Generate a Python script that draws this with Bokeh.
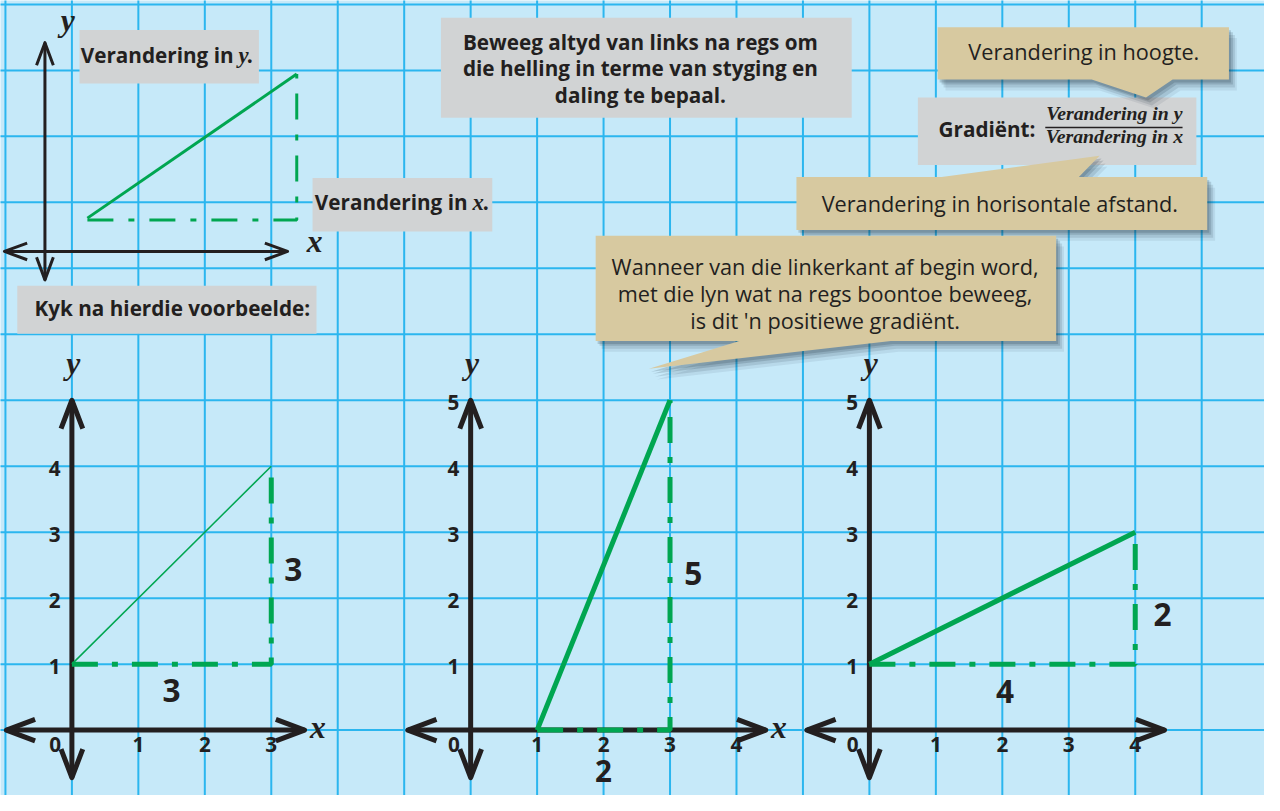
from bokeh.plotting import figure
from bokeh.models import Range1d
from bokeh.core.properties import value
from bokeh.embed import file_html
from bokeh.resources import INLINE

# ---------------- data ----------------
ex_line_x = [[0, 3], [1, 3], [0, 4]]          # green line, x values per example
ex_line_y = [[1, 4], [0, 5], [1, 3]]          # green line, y values per example
ex_rise = ["3", "5", "2"]                     # change in y
ex_run = ["3", "2", "4"]                      # change in x
ex_xticks = [[0, 1, 2, 3], [0, 1, 2, 3, 4], [0, 1, 2, 3, 4]]
ex_yticks = [[1, 2, 3, 4], [1, 2, 3, 4, 5], [1, 2, 3, 4, 5]]
ex_has_xlabel = [True, True, False]

txt_dy = "Verandering in"
txt_dx = "Verandering in"
txt_kyk = "Kyk na hierdie voorbeelde:"
txt_beweeg = ["Beweeg altyd van links na regs om",
              "die helling in terme van styging en",
              "daling te bepaal."]
txt_grad = "Gradiënt:"
txt_num = "Verandering in y"
txt_den = "Verandering in x"
txt_hoogte = "Verandering in hoogte."
txt_afstand = "Verandering in horisontale afstand."
txt_wanneer = ["Wanneer van die linkerkant af begin word,",
               "met die lyn wat na regs boontoe beweeg,",
               "is dit 'n positiewe gradiënt."]

# ---------------- style / layout ----------------
BG = "#c6e9f9"
GRIDC = "#2bb6ef"
INK = "#231f20"
GREEN = "#00a651"
GRAY = "#d1d3d4"
TAN = "#d7c9a0"
SANS = "Open Sans"
SERIF = "Liberation Serif"

U = 67.3           # reference px per grid unit
OX, OY = 72.3, 744.3
W, H = 1264, 795
SX = W / 1280.0


def gx(px):
    return (px - OX) / U


def gy(py):
    return (OY - py) / U


p = figure(width=W, height=H,
           x_range=Range1d(gx(0), gx(1280)), y_range=Range1d(gy(811), gy(0)),
           output_backend="svg", toolbar_location=None,
           x_axis_location=None, y_axis_location=None, min_border=0,
           background_fill_color=BG, border_fill_color=BG, outline_line_color=None)
p.xgrid.visible = False
p.ygrid.visible = False

# grid
vx = list(range(-1, 19))
p.segment(x0=vx, y0=[-2] * len(vx), x1=vx, y1=[12] * len(vx), line_color=GRIDC, line_width=2)
hy = list(range(-1, 12))
p.segment(x0=[-2] * len(hy), y0=hy, x1=[19] * len(hy), y1=hy, line_color=GRIDC, line_width=2)


def fs(n):
    return "%.1fpx" % (n * SX)


def box(l, t, r, b, color):
    p.quad(left=gx(l), right=gx(r), top=gy(t), bottom=gy(b), fill_color=color, line_color=None)


def txt(x, y, s, size, style="bold", font=SANS, align="center", color=INK):
    p.text(x=[x], y=[y], text=[s], text_font=value(font), text_font_size=fs(size),
           text_font_style=style, text_align=align, text_baseline="middle", text_color=color)


def chevron(tx, ty, dx, dy, along, perp):
    nx, ny = -dy, dx
    a, w = along / U, perp / U
    xs = [tx - dx * a + nx * w, tx, tx - dx * a - nx * w]
    ys = [ty - dy * a + ny * w, ty, ty - dy * a - ny * w]
    return xs, ys


# ---------------- gray boxes ----------------
box(80, 30, 261.7, 84.7, GRAY)
box(316, 181, 498, 235.7, GRAY)
box(17, 291, 320, 340, GRAY)
box(446, 17.7, 862, 119.7, GRAY)
box(929, 99, 1211, 167.7, GRAY)

txt(gx(236), gy(56), txt_dy, 21, align="right")
txt(gx(241), gy(56), "y.", 23, style="bold italic", font=SERIF, align="left")
txt(gx(473), gy(206), txt_dx, 21, align="right")
txt(gx(478), gy(206), "x.", 23, style="bold italic", font=SERIF, align="left")
txt(gx(174), gy(314), txt_kyk, 21)
for i, line in enumerate(txt_beweeg):
    txt(gx(648), gy(42 + 27 * i), line, 21)
txt(gx(999), gy(131), txt_grad, 21)
txt(gx(1128), gy(115), txt_num, 20, style="bold italic", font=SERIF)
p.segment(x0=[gx(1058)], y0=[gy(129.5)], x1=[gx(1197)], y1=[gy(129.5)], line_color=INK, line_width=1.5)
txt(gx(1128), gy(138), txt_den, 20, style="bold italic", font=SERIF)

# ---------------- schematic (top left) ----------------
sch_w = 3
p.segment(x0=[gx(45)], y0=[gy(43)], x1=[gx(45)], y1=[gy(285)], line_color=INK, line_width=sch_w)
p.segment(x0=[gx(4)], y0=[gy(256)], x1=[gx(290.7)], y1=[gy(256)], line_color=INK, line_width=sch_w)
sx, sy = [], []
for (tx, ty, dx, dy) in [(gx(45), gy(43), 0, 1), (gx(45), gy(285), 0, -1),
                         (gx(4), gy(256), -1, 0), (gx(290.7), gy(256), 1, 0)]:
    a, b = chevron(tx, ty, dx, dy, 23, 8.5)
    sx.append(a)
    sy.append(b)
p.multi_line(xs=sx, ys=sy, line_color=INK, line_width=sch_w, line_join="round")
p.line(x=[gx(88), gx(300)], y=[gy(222), gy(75)], line_color=GREEN, line_width=3)
p.line(x=[gx(88), gx(300), gx(300)], y=[gy(224), gy(224), gy(75)], line_color=GREEN,
       line_width=3, line_dash="26 15 6 15")
txt(gx(68), gy(20), "y", 32, style="bold italic", font=SERIF)
txt(gx(318), gy(246), "x", 32, style="bold italic", font=SERIF)

# ---------------- examples ----------------
origins = [0, 6, 12]
x_left = [-0.985, -0.945, -0.94]
x_right = [3.5, 4.44, 4.44]
y_top = 5.0
y_bottom = -0.72
rise_off = [(0.33, -0.06), (0.35, -0.13), (0.41, -0.25)]
run_off = [(0.0, -0.40), (0.0, -0.62), (0.04, -0.42)]
line_w = [1.5, 5, 5]

for k in range(3):
    o = origins[k]
    # axes
    p.segment(x0=[o + x_left[k], o], y0=[0, y_bottom], x1=[o + x_right[k], o], y1=[0, y_top],
              line_color=INK, line_width=5)
    ax, ay = [], []
    for (tx, ty, dx, dy) in [(o + x_left[k], 0, -1, 0), (o + x_right[k], 0, 1, 0),
                             (o, y_top, 0, 1), (o, y_bottom, 0, -1)]:
        a, b = chevron(tx, ty, dx, dy, 29, 11)
        ax.append(a)
        ay.append(b)
    p.multi_line(xs=ax, ys=ay, line_color=INK, line_width=5, line_join="round")
    # tick labels
    for t in ex_xticks[k]:
        xx = o + t if t != 0 else o - 0.25
        txt(xx, -0.225, str(t), 21)
    for t in ex_yticks[k]:
        txt(o - 0.26, t - 0.03, str(t), 21)
    txt(o + 0.02, 5.56, "y", 32, style="bold italic", font=SERIF)
    if ex_has_xlabel[k]:
        txt(o + x_right[k] + 0.2, 0.04, "x", 32, style="bold italic", font=SERIF)
    # triangle
    x0, x1 = ex_line_x[k]
    y0, y1 = ex_line_y[k]
    p.line(x=[o + x0, o + x1, o + x1], y=[y0, y0, y1], line_color=GREEN, line_width=5,
           line_dash="26 14 6 14")
    p.line(x=[o + x0, o + x1], y=[y0, y1], line_color=GREEN, line_width=line_w[k])
    txt(o + x1 + rise_off[k][0], (y0 + y1) / 2 + rise_off[k][1], ex_rise[k], 32)
    txt(o + (x0 + x1) / 2 + run_off[k][0], y0 + run_off[k][1], ex_run[k], 30 if k == 1 else 32)

# ---------------- callouts ----------------
callouts = [
    [(949, 27.3), (1244, 27.3), (1244, 80.7), (1187, 80.7), (1160, 99), (1105, 80.7), (949, 80.7)],
    [(806, 180), (953, 180), (1113, 158.3), (1092, 180), (1222, 180), (1222, 234), (806, 234)],
    [(602.7, 240), (1069, 240), (1069, 347.3), (901.7, 347.3), (656.7, 375.7), (748.3, 347.3), (602.7, 347.3)],
]
for poly in callouts:
    for (ox, oy, al) in [(8, 11, 0.08), (6, 8, 0.12), (4, 5, 0.16), (2, 3, 0.18)]:
        p.patch(x=[gx(a + ox) for a, b in poly], y=[gy(b + oy) for a, b in poly],
                fill_color="#1a2a3a", fill_alpha=al, line_color=None)
    p.patch(x=[gx(a) for a, b in poly], y=[gy(b) for a, b in poly], fill_color=TAN, line_color=None)

txt(gx(1097), gy(52), txt_hoogte, 22, style="normal")
txt(gx(1012), gy(207), txt_afstand, 22, style="normal")
for i, line in enumerate(txt_wanneer):
    txt(gx(835), gy(271 + 27.5 * i), line, 22, style="normal")

open("out.html", "w").write(file_html(p, INLINE))
